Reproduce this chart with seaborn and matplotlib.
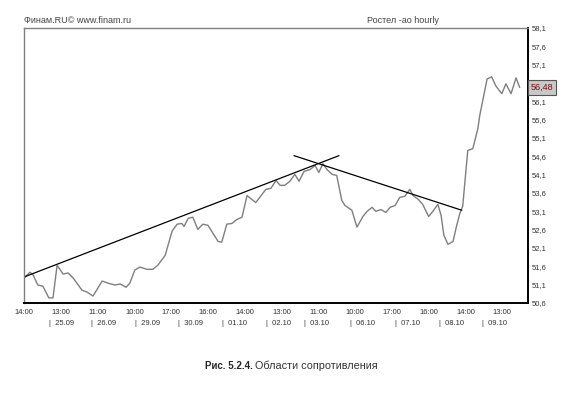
import pandas as pd
import seaborn as sns
import matplotlib.pyplot as plt

# hourly bars (bar index) and close prices
bars = [0, 1.3, 2.0, 3.0, 4.1, 5.4, 6.3, 7.2, 8.5, 9.6, 10.7, 12.6, 13.7, 15.0,
        17.0, 18.3, 19.8, 20.9, 22.2, 23.0, 24.1, 25.2, 26.7, 28.0, 29.1, 30.7,
        32.2, 33.3, 34.3, 34.8, 35.7, 36.7, 37.8, 38.9, 40.0, 41.1, 42.2, 43.0,
        44.1, 45.2, 46.3, 47.4, 48.5, 50.4, 52.6, 53.7, 54.8, 55.7, 56.7, 57.8,
        58.9, 59.8, 60.9, 62.2, 63.3, 64.1, 65.0, 65.9, 67.0, 68.0, 69.1, 69.8,
        71.3, 72.4, 73.7, 74.6, 75.7, 76.5, 77.6, 78.7, 79.6, 80.7, 81.7, 82.8,
        83.9, 84.6, 85.7, 86.7, 88.0, 88.9, 90.0, 90.7, 91.3, 92.2, 93.3, 94.1,
        94.8, 95.4, 96.5, 97.6, 98.7, 99.1, 100.7, 101.7, 102.6, 103.9, 104.8,
        105.9, 107.0, 107.8]
prices = [51.28, 51.44, 51.36, 51.09, 51.06, 50.74, 50.74, 51.63, 51.39, 51.42,
          51.28, 50.95, 50.90, 50.79, 51.20, 51.14, 51.09, 51.12, 51.03, 51.14,
          51.50, 51.58, 51.52, 51.52, 51.63, 51.90, 52.56, 52.75, 52.77, 52.69,
          52.91, 52.94, 52.61, 52.75, 52.72, 52.50, 52.28, 52.26, 52.75, 52.77,
          52.88, 52.94, 53.53, 53.34, 53.70, 53.73, 53.94, 53.81, 53.81, 53.92,
          54.11, 53.92, 54.19, 54.24, 54.35, 54.16, 54.40, 54.24, 54.11, 54.08,
          53.40, 53.26, 53.13, 52.67, 52.96, 53.10, 53.21, 53.10, 53.15, 53.07,
          53.21, 53.26, 53.48, 53.51, 53.70, 53.53, 53.43, 53.29, 52.96, 53.10,
          53.29, 52.99, 52.45, 52.20, 52.28, 52.72, 53.05, 53.24, 54.76, 54.81,
          55.36, 55.71, 56.71, 56.77, 56.52, 56.31, 56.58, 56.31, 56.74, 56.48]
last_price = 56.48

# trend lines
rise_x = [0, 68.5]
rise_y = [51.31, 54.62]
fall_x = [58.7, 95.2]
fall_y = [54.62, 53.13]

hour_ticks = [0, 8, 16, 24, 32, 40, 48, 56, 64, 72, 80, 88, 96, 104]
hour_labels = ["14:00", "13:00", "11:00", "10:00", "17:00", "16:00", "14:00",
               "13:00", "11:00", "10:00", "17:00", "16:00", "14:00", "13:00"]
day_starts = [5.4, 14.6, 24.1, 33.5, 43.0, 52.6, 60.9, 70.9, 80.7, 90.2, 99.6]
day_labels = ["25.09", "26.09", "29.09", "30.09", "01.10", "02.10", "03.10",
              "06.10", "07.10", "08.10", "09.10"]
y_ticks = [50.6, 51.1, 51.6, 52.1, 52.6, 53.1, 53.6, 54.1, 54.6, 55.1, 55.6,
           56.1, 56.6, 57.1, 57.6, 58.1]

sns.set_style("white")
plt.rcParams["font.family"] = ["Liberation Sans", "DejaVu Sans"]

fig = plt.figure(figsize=(5.87, 3.96), dpi=100)
ax = fig.add_axes([0.0409, 0.2348, 0.8586, 0.6944])

df = pd.DataFrame({"bar": bars, "price": prices})
sns.lineplot(data=df, x="bar", y="price", color="#7f7f7f", linewidth=1.0, ax=ax)
sns.lineplot(x=rise_x, y=rise_y, color="black", linewidth=0.9, ax=ax)
sns.lineplot(x=fall_x, y=fall_y, color="black", linewidth=0.9, ax=ax)

ax.set_xlim(0, 109.6)
ax.set_ylim(50.6, 58.1)
ax.set_xlabel("")
ax.set_ylabel("")

ax.yaxis.tick_right()
ax.set_yticks(y_ticks)
ax.set_yticklabels([f"{v:.1f}".replace(".", ",") for v in y_ticks])
ax.tick_params(axis="y", labelsize=5.5, length=0, pad=3, colors="#333333")
ax.set_xticks(hour_ticks)
ax.set_xticklabels(hour_labels)
ax.tick_params(axis="x", labelsize=5.5, length=0, pad=4, colors="#333333")

for side in ["left", "top"]:
    ax.spines[side].set_color("#808080")
    ax.spines[side].set_linewidth(1.0)
for side in ["right", "bottom"]:
    ax.spines[side].set_color("black")
    ax.spines[side].set_linewidth(1.4)

# day separators under the hour labels
for d, lab in zip(day_starts, day_labels):
    ax.text(d, -0.073, "|  " + lab, transform=ax.get_xaxis_transform(),
            ha="left", va="center", fontsize=5.5, color="#333333")

# last price marker
ax.text(1.006, last_price, "56,48", transform=ax.get_yaxis_transform(),
        ha="left", va="center", fontsize=6.5, color="#7a1010", zorder=5,
        bbox=dict(boxstyle="square,pad=0.3", facecolor="#c8c8c8",
                  edgecolor="#555555", linewidth=0.8))

fig.text(0.041, 0.947, "Финам.RU© www.finam.ru", fontsize=6.5, color="#444444",
         ha="left", va="center")
fig.text(0.687, 0.947, "Ростел -ао hourly", fontsize=6.5, color="#444444",
         ha="center", va="center")

# caption: bold figure number followed by plain text
cap = fig.text(0.349, 0.068, "Рис. 5.2.4. ", fontsize=7, fontweight="bold",
               ha="left", va="baseline")
fig.canvas.draw()
plt.annotate("Области сопротивления", xy=(1, 0), xycoords=cap,
             fontsize=7.8, color="#333333", ha="left", va="bottom")

plt.savefig("out.png", dpi=100)
plt.close()
